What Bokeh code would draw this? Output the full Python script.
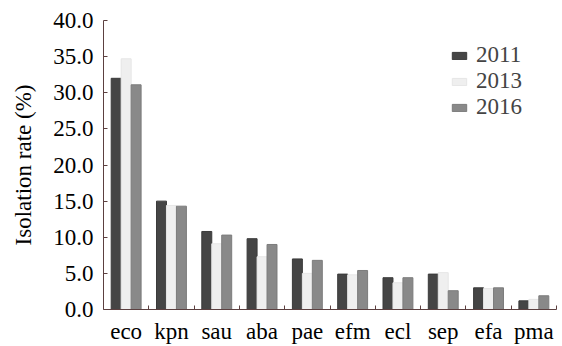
from bokeh.plotting import figure
from bokeh.models import Range1d, FixedTicker, Legend, LegendItem, ColumnDataSource
from bokeh.embed import file_html
from bokeh.resources import INLINE

categories = ["eco", "kpn", "sau", "aba", "pae", "efm", "ecl", "sep", "efa", "pma"]
years = ["2011", "2013", "2016"]
rate_2011 = [32.0, 15.0, 10.8, 9.8, 7.0, 4.9, 4.4, 4.9, 3.0, 1.2]
rate_2013 = [34.7, 14.4, 9.1, 7.3, 5.0, 4.8, 3.7, 5.1, 2.9, 1.4]
rate_2016 = [31.1, 14.3, 10.3, 9.0, 6.8, 5.4, 4.4, 2.6, 3.0, 1.9]
y_ticks = [0, 5, 10, 15, 20, 25, 30, 35, 40]

series = [rate_2011, rate_2013, rate_2016]
fills = ["#454545", "#efefef", "#898989"]
lines = ["#3a3a3a", "#e6e6e6", "#7c7c7c"]
offsets = [-0.22, 0.0, 0.22]
bar_w = 0.22

FONT = "Liberation Serif"
FS = "23px"

p = figure(width=562, height=346, output_backend="svg", toolbar_location=None,
           x_range=Range1d(0, len(categories)), y_range=Range1d(0, 40),
           min_border_left=103, min_border_right=6, min_border_top=20, min_border_bottom=32)
p.outline_line_color = None
p.xgrid.visible = False
p.ygrid.visible = False
p.background_fill_color = "white"

centers = [i + 0.5 for i in range(len(categories))]
renderers = []
for vals, fc, lc, off in zip(series, fills, lines, offsets):
    src = ColumnDataSource(dict(x=[c + off for c in centers], top=vals))
    r = p.vbar(x="x", top="top", width=bar_w, source=src, fill_color=fc, line_color=lc, line_width=1)
    renderers.append(r)

# x axis
p.xaxis.ticker = FixedTicker(ticks=centers, minor_ticks=list(range(1, len(categories) + 1)))
p.xaxis.major_label_overrides = {c: name for c, name in zip(centers, categories)}
p.xaxis.major_tick_line_color = None
p.xaxis.minor_tick_in = 4
p.xaxis.minor_tick_out = 0
p.xaxis.minor_tick_line_color = "#5c4040"
p.xaxis.axis_line_color = "#5c4040"
p.xaxis.major_label_text_font = FONT
p.xaxis.major_label_text_font_size = FS
p.xaxis.major_label_text_color = "black"
p.xaxis.major_label_standoff = 3

# y axis
p.yaxis.ticker = FixedTicker(ticks=y_ticks)
p.yaxis.major_label_overrides = {t: f"{t:.1f}" for t in y_ticks}
p.yaxis.major_tick_in = 4
p.yaxis.major_tick_out = 0
p.yaxis.minor_tick_line_color = None
p.yaxis.major_tick_line_color = "#5c4040"
p.yaxis.axis_line_color = "#5c4040"
p.yaxis.major_label_text_font = FONT
p.yaxis.major_label_text_font_size = FS
p.yaxis.major_label_text_color = "black"
p.yaxis.major_label_standoff = 10
p.yaxis.axis_label = "Isolation rate (%)"
p.yaxis.axis_label_text_font = FONT
p.yaxis.axis_label_text_font_size = FS
p.yaxis.axis_label_text_font_style = "normal"
p.yaxis.axis_label_text_color = "black"
p.yaxis.axis_label_standoff = 14

legend = Legend(items=[LegendItem(label=y, renderers=[r]) for y, r in zip(years, renderers)],
                location=(347, 189), padding=0, margin=0, spacing=0,
                glyph_width=18, glyph_height=9, label_standoff=8,
                label_text_font=FONT, label_text_font_size=FS,
                border_line_color=None, background_fill_alpha=0)
p.add_layout(legend)

open("out.html", "w").write(file_html(p, INLINE))
